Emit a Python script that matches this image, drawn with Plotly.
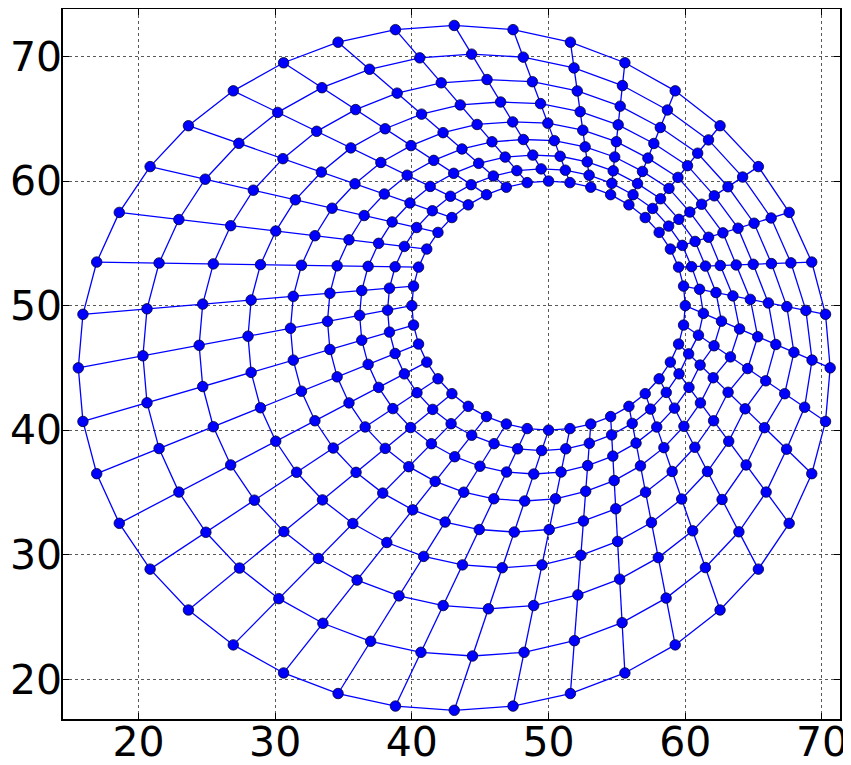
import numpy as np
import plotly.graph_objects as go

# ---- values ----
inner_center = [50.0, 50.0]
inner_radius = 10.0
outer_center = [43.1, 45.0]
outer_radius = 27.5
n_layers = 8  # intervals between inner and outer ring

# spoke directions (degrees), one per mesh column
spoke_angles_deg = [0, 9, 18, 27, 36, 45, 54, 63, 72, 81,
                    90, 99, 108, 117, 126, 135, 144, 153, 162, 171,
                    180, 189, 198, 207, 216, 225, 234, 243, 252, 261,
                    270, 279, 288, 297, 306, 315, 324, 333, 342, 351]
# growth ratio of successive cell lengths along each spoke
spoke_growth = [1.00, 1.03, 1.07, 1.06, 1.075, 1.065, 1.095, 1.105, 1.115, 1.12,
                1.13, 1.13, 1.135, 1.14, 1.14, 1.145, 1.145, 1.15, 1.15, 1.15,
                1.15, 1.15, 1.15, 1.15, 1.15, 1.15, 1.15, 1.15, 1.15, 1.15,
                1.15, 1.15, 1.155, 1.155, 1.155, 1.155, 1.155, 1.15, 1.14, 1.05]

x_ticks = [20, 30, 40, 50, 60, 70]
y_ticks = [20, 30, 40, 50, 60, 70]

# ---- build mesh nodes ----
th = np.radians(np.array(spoke_angles_deg, dtype=float))
q = np.array(spoke_growth)
ix = inner_center[0] + inner_radius * np.cos(th)
iy = inner_center[1] + inner_radius * np.sin(th)
ox = outer_center[0] + outer_radius * np.cos(th)
oy = outer_center[1] + outer_radius * np.sin(th)

k = np.arange(n_layers + 1)[:, None]
uniform = np.abs(q - 1) < 1e-9
s = np.where(uniform, k / n_layers,
             (q ** k - 1) / np.where(uniform, 1, q ** n_layers - 1))
X = ix[None, :] + s * (ox - ix)[None, :]
Y = iy[None, :] + s * (oy - iy)[None, :]

lx, ly = [], []
for r in range(n_layers + 1):          # rings
    lx += list(X[r]) + [X[r, 0], None]
    ly += list(Y[r]) + [Y[r, 0], None]
for j in range(len(th)):               # spokes
    lx += list(X[:, j]) + [None]
    ly += list(Y[:, j]) + [None]

fig = go.Figure()
fig.add_trace(go.Scatter(x=lx, y=ly, mode="lines",
                         line=dict(color="#0000ff", width=1.3),
                         hoverinfo="skip", showlegend=False))
fig.add_trace(go.Scatter(x=X.ravel(), y=Y.ravel(), mode="markers",
                         marker=dict(color="#0000ff", size=10.5,
                                     line=dict(color="#000033", width=0.8)),
                         showlegend=False))

axis_common = dict(showline=True, linecolor="black", linewidth=1.5, mirror="ticks",
                   ticks="inside", ticklen=6, tickcolor="black", tickwidth=1,
                   showgrid=True, gridcolor="rgba(0,0,0,0.65)", gridwidth=1,
                   griddash="dot", zeroline=False, automargin=False,
                   tickfont=dict(family="DejaVu Sans", size=41, color="black"))

fig.update_xaxes(range=[14.48, 71.32], tickvals=x_ticks, ticklabelstandoff=-14,
                 ticktext=[str(v) for v in x_ticks], **axis_common)
fig.update_yaxes(range=[16.8, 73.82], tickvals=y_ticks, ticklabelstandoff=-9,
                 ticktext=[str(v) for v in y_ticks], **axis_common)

# page body adds an 8px offset, so the figure is sized to fill the rest of the window
fig.update_layout(width=843, height=757,
                  margin=dict(l=55, r=11, t=1, b=46),
                  paper_bgcolor="white", plot_bgcolor="white")

fig.write_html("out.html")
